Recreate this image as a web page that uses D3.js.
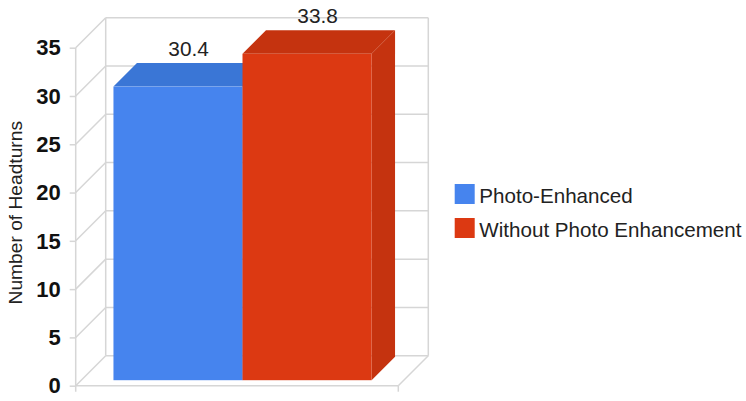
<!DOCTYPE html>
<html>
<head>
<meta charset="utf-8">
<script src="https://cdn.jsdelivr.net/npm/d3@7"></script>
<style>
  html, body { margin: 0; padding: 0; background: #fff; }
  svg { display: block; font-family: "Liberation Sans", Arial, sans-serif; }
</style>
</head>
<body>
<svg id="chart" width="746" height="401"></svg>
<script>
// ---- data ----
const seriesNames = ["Photo-Enhanced", "Without Photo Enhancement"];
const seriesValues = [30.4, 33.8];
const valueLabels = ["30.4", "33.8"];
const frontColors = ["#4684ee", "#dc3912"];
const shadeColors = ["#3a76d6", "#c5330f"];
const yTicks = [0, 5, 10, 15, 20, 25, 30, 35];
const yTitle = "Number of Headturns";

// ---- layout ----
const svg = d3.select("#chart");
const box = { left: 75.7, right: 398.3, bottom: 385.7, top: 47.7 };
const depth = 30;          // box depth (px, diagonal offset)
const barFront = 5.5;      // bar front plane depth
const barDepth = 23.5;     // bar depth
const gridColor = "#d6d6d6";

const y = d3.scaleLinear().domain([0, 35]).range([box.bottom, box.top]);
const x = d3.scaleBand().domain(seriesNames)
  .range([box.left, box.right]).paddingInner(0).paddingOuter(0.25);

const g = svg.append("g");

// back wall gridlines
g.selectAll("line.back").data(yTicks).join("line")
  .attr("x1", box.left + depth).attr("x2", box.right + depth)
  .attr("y1", d => y(d) - depth).attr("y2", d => y(d) - depth)
  .attr("stroke", gridColor).attr("stroke-width", 1.5);

// left wall diagonals
g.selectAll("line.diag").data(yTicks).join("line")
  .attr("x1", box.left).attr("x2", box.left + depth)
  .attr("y1", d => y(d)).attr("y2", d => y(d) - depth)
  .attr("stroke", gridColor).attr("stroke-width", 1.5);

// back verticals
[box.left + depth, box.right + depth].forEach(xx => {
  g.append("line").attr("x1", xx).attr("x2", xx)
    .attr("y1", y(35) - depth).attr("y2", y(0) - depth)
    .attr("stroke", gridColor).attr("stroke-width", 1.5);
});

// floor right diagonal
g.append("line").attr("x1", box.right).attr("x2", box.right + depth)
  .attr("y1", y(0)).attr("y2", y(0) - depth)
  .attr("stroke", gridColor).attr("stroke-width", 1.5);

// bars
const bars = g.selectAll("g.bar").data(seriesValues).join("g");
bars.each(function(v, i) {
  const sel = d3.select(this);
  const x0 = x(seriesNames[i]) + barFront;
  const x1 = x0 + x.bandwidth();
  const yb = y(0) - barFront;
  const yt = y(v) - barFront;
  const d = barDepth;
  sel.append("path")
    .attr("d", `M${x1},${yt}L${x1 + d},${yt - d}L${x1 + d},${yb - d}L${x1},${yb}Z`)
    .attr("fill", shadeColors[i]);
  sel.append("path")
    .attr("d", `M${x0},${yt}L${x0 + d},${yt - d}L${x1 + d},${yt - d}L${x1},${yt}Z`)
    .attr("fill", shadeColors[i]);
  sel.append("rect")
    .attr("x", x0).attr("y", yt).attr("width", x1 - x0).attr("height", yb - yt)
    .attr("fill", frontColors[i]);
  sel.append("text")
    .attr("x", (x0 + x1) / 2 + d * 0.45)
    .attr("y", yt - d - 7)
    .attr("text-anchor", "middle")
    .attr("font-size", "20.8px")
    .attr("fill", "#222")
    .text(valueLabels[i]);
});

// front floor line and axis verticals
g.append("line").attr("x1", box.left).attr("x2", box.right)
  .attr("y1", y(0)).attr("y2", y(0))
  .attr("stroke", gridColor).attr("stroke-width", 1.5);
g.append("line").attr("x1", box.left).attr("x2", box.left)
  .attr("y1", y(35)).attr("y2", y(0) + 6)
  .attr("stroke", gridColor).attr("stroke-width", 1.5);
g.append("line").attr("x1", box.right).attr("x2", box.right)
  .attr("y1", y(0)).attr("y2", y(0) + 6)
  .attr("stroke", gridColor).attr("stroke-width", 1.5);

// y axis
const axis = d3.axisLeft(y).tickValues(yTicks).tickSize(6).tickPadding(9).tickSizeOuter(0);
const ag = svg.append("g").attr("transform", `translate(${box.left},0)`).call(axis);
ag.select(".domain").remove();
ag.selectAll(".tick line").attr("stroke", gridColor).attr("stroke-width", 1.5);
ag.selectAll(".tick text")
  .attr("font-family", "'Liberation Sans', Arial, sans-serif")
  .attr("font-size", "22px").attr("font-weight", "bold")
  .attr("fill", "#111").attr("dy", "0.33em");

// y title
svg.append("text")
  .attr("transform", `translate(21.5,${(y(0) + y(35)) / 2 - 4}) rotate(-90)`)
  .attr("text-anchor", "middle")
  .attr("font-size", "19.2px")
  .attr("fill", "#222")
  .text(yTitle);

// legend
const leg = svg.append("g").attr("transform", "translate(454.7,184)");
const li = leg.selectAll("g").data(seriesNames).join("g")
  .attr("transform", (d, i) => `translate(0,${i * 34})`);
li.append("rect").attr("width", 20).attr("height", 20)
  .attr("fill", (d, i) => frontColors[i]);
li.append("text").attr("x", 24.6).attr("y", 19)
  .attr("font-size", "20.6px").attr("fill", "#222")
  .text(d => d);
</script>
</body>
</html>
